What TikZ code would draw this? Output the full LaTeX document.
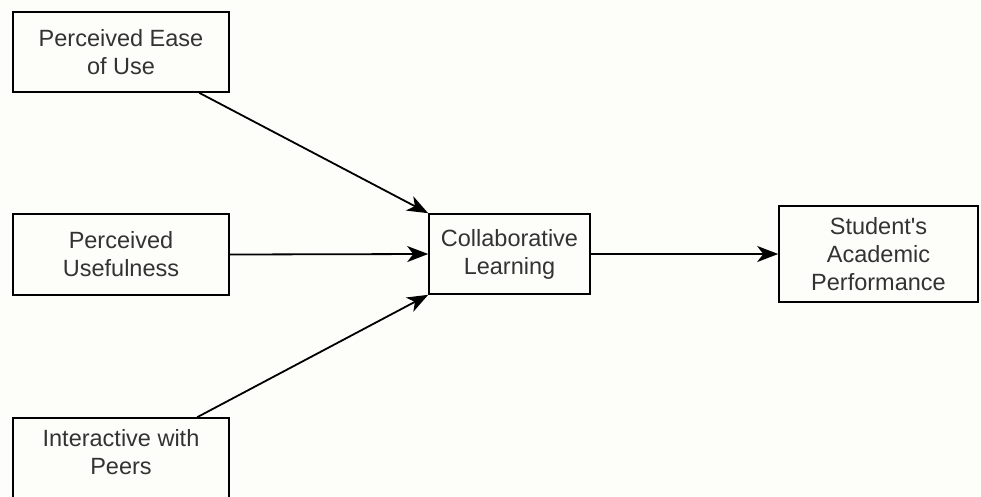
\documentclass[tikz,border=0pt]{standalone}
\usepackage{fontspec}
\setmainfont{Liberation Sans}
\usetikzlibrary{arrows.meta,calc}
\definecolor{txt}{HTML}{333333}
\definecolor{bg}{HTML}{FDFDF9}
\begin{document}
\begin{tikzpicture}[x=1pt,y=-1pt,
  box/.style={draw=black,line width=1.6pt,fill=none,align=center,text=txt,
    font=\fontsize{23.5}{28}\selectfont,inner sep=0pt},
  lbl/.style={align=center,text=txt,font=\fontsize{23.5}{28}\selectfont,inner sep=0pt},
  arr/.style={line width=1.8pt,-{Stealth[length=21pt,width=16pt,inset=6pt]}}]
\fill[bg] (0,0) rectangle (981,496);
\useasboundingbox (0,0) rectangle (981,496);
\clip (0,0) rectangle (981,496);
\node[box,minimum width=216pt,minimum height=80pt] (b1) at (121,52) {Perceived Ease\\of Use};
\node[box,minimum width=216pt,minimum height=81pt] (b2) at (121,254.5) {Perceived\\Usefulness};
\node[draw=black,line width=1.6pt,minimum width=216pt,minimum height=90pt,inner sep=0pt] (b3) at (121,463) {};
\node[lbl] (b3t) at (121,452) {Interactive with\\Peers};
\node[box,minimum width=161pt,minimum height=80pt] (c) at (509.5,254) {Collaborative\\Learning};
\node[box,minimum width=199pt,minimum height=96pt] (r) at (878.5,254) {Student\textquotesingle s\\Academic\\Performance};
\coordinate (s1) at ($(b1.south west)+(187,0)$);
\coordinate (s3) at ($(b3.north west)+(185,0)$);
\draw[arr] (s1) -- (c.north west);
\draw[arr] (b2.east) -- (c.west);
\draw[arr] (s3) -- (c.south west);
\draw[arr] (c.east) -- (r.west);
\end{tikzpicture}
\end{document}
